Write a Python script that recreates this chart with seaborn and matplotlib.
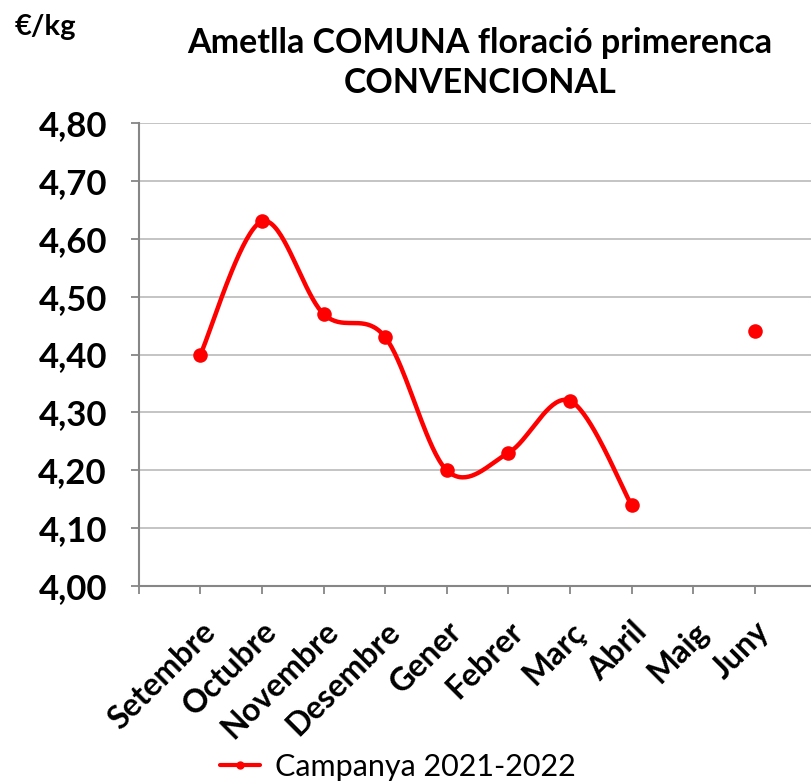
import matplotlib
matplotlib.use("Agg")
import matplotlib.pyplot as plt
from matplotlib.lines import Line2D
import numpy as np
import pandas as pd
import seaborn as sns

MONTHS = ["Setembre", "Octubre", "Novembre", "Desembre", "Gener",
          "Febrer", "Març", "Abril", "Maig", "Juny"]
PRICES = [4.40, 4.63, 4.47, 4.43, 4.20, 4.23, 4.32, 4.14, np.nan, 4.44]
Y_TICKS = [4.00, 4.10, 4.20, 4.30, 4.40, 4.50, 4.60, 4.70, 4.80]
SERIES = "Campanya 2021-2022"
RED = "#ff0000"


def smooth_run(x, y, steps=40):
    # Excel-style smoothed line: cubic Bezier with 1/6 tangents
    px = np.concatenate([[x[0]], x, [x[-1]]])
    py = np.concatenate([[y[0]], y, [y[-1]]])
    xs, ys = [], []
    t = np.linspace(0, 1, steps)
    for i in range(1, len(px) - 2):
        p0 = np.array([px[i], py[i]])
        p3 = np.array([px[i + 1], py[i + 1]])
        c1 = p0 + (np.array([px[i + 1], py[i + 1]]) - np.array([px[i - 1], py[i - 1]])) / 6
        c2 = p3 - (np.array([px[i + 2], py[i + 2]]) - np.array([px[i], py[i]])) / 6
        b = ((1 - t) ** 3)[:, None] * p0 + (3 * (1 - t) ** 2 * t)[:, None] * c1 \
            + (3 * (1 - t) * t ** 2)[:, None] * c2 + (t ** 3)[:, None] * p3
        xs.extend(b[:, 0])
        ys.extend(b[:, 1])
    return np.array(xs), np.array(ys)


sns.set_theme(style="white")
plt.rcParams["font.family"] = ["Lato", "DejaVu Sans"]
plt.rcParams["text.color"] = "black"
plt.rcParams["xtick.color"] = "black"
plt.rcParams["ytick.color"] = "black"

df = pd.DataFrame({"month": MONTHS, "price": PRICES})
df["pos"] = np.arange(len(df))

fig = plt.figure(figsize=(8.12, 7.82), dpi=100)
ax = fig.add_axes([0.171, 0.2506, 0.829, 0.5921])

# smoothed curve over the contiguous run of values
valid = df["price"].notna().to_numpy()
run = df[valid & (df["pos"] <= 7)]
cx, cy = smooth_run(run["pos"].to_numpy(float), run["price"].to_numpy(float))
curve = pd.DataFrame({"x": cx, "y": cy})
sns.lineplot(data=curve, x="x", y="y", ax=ax, color=RED, linewidth=3.2,
             sort=False, estimator=None, zorder=3)
sns.scatterplot(data=df.dropna(), x="pos", y="price", ax=ax, color=RED,
                s=110, edgecolor=RED, linewidth=0, zorder=4)

ax.set_xlim(-1, 9.93)
ax.set_ylim(4.0, 4.8)
ax.set_yticks(Y_TICKS)
ax.set_yticklabels([f"{v:.2f}".replace(".", ",") for v in Y_TICKS],
                   fontsize=25, fontweight="bold")
ax.set_xticks(np.arange(-1, len(MONTHS)))
ax.set_xticklabels([""] + MONTHS, rotation=45, ha="right",
                   rotation_mode="anchor", fontsize=23, fontweight="bold")
ax.set_xlabel("")
ax.set_ylabel("")

ax.grid(axis="y", color="#bfbfbf", linewidth=1.3)
ax.grid(axis="x", visible=False)
ax.set_axisbelow(True)
for side in ["top", "right"]:
    ax.spines[side].set_visible(False)
for side in ["left", "bottom"]:
    ax.spines[side].set_color("#868686")
    ax.spines[side].set_linewidth(1.5)
ax.tick_params(axis="both", which="major", direction="out", length=6,
               width=1.3, color="#868686", labelcolor="black",
               bottom=True, left=True)
ax.tick_params(axis="y", pad=17)
ax.tick_params(axis="x", pad=16)

fig.text(0.591, 0.919, "Ametlla COMUNA floració primerenca\nCONVENCIONAL",
         ha="center", va="center", fontsize=24.5, fontweight="bold",
         linespacing=1.3)
fig.text(0.018, 0.965, "€/kg", ha="left", va="center",
         fontsize=21, fontweight="bold")

handle = Line2D([], [], color=RED, linewidth=3, marker="o", markersize=5)
fig.legend([handle], [SERIES], loc="center", bbox_to_anchor=(0.49, 0.019),
           frameon=False, fontsize=22, handlelength=1.3, handletextpad=0.5)

fig.savefig("out.png", dpi=100)
